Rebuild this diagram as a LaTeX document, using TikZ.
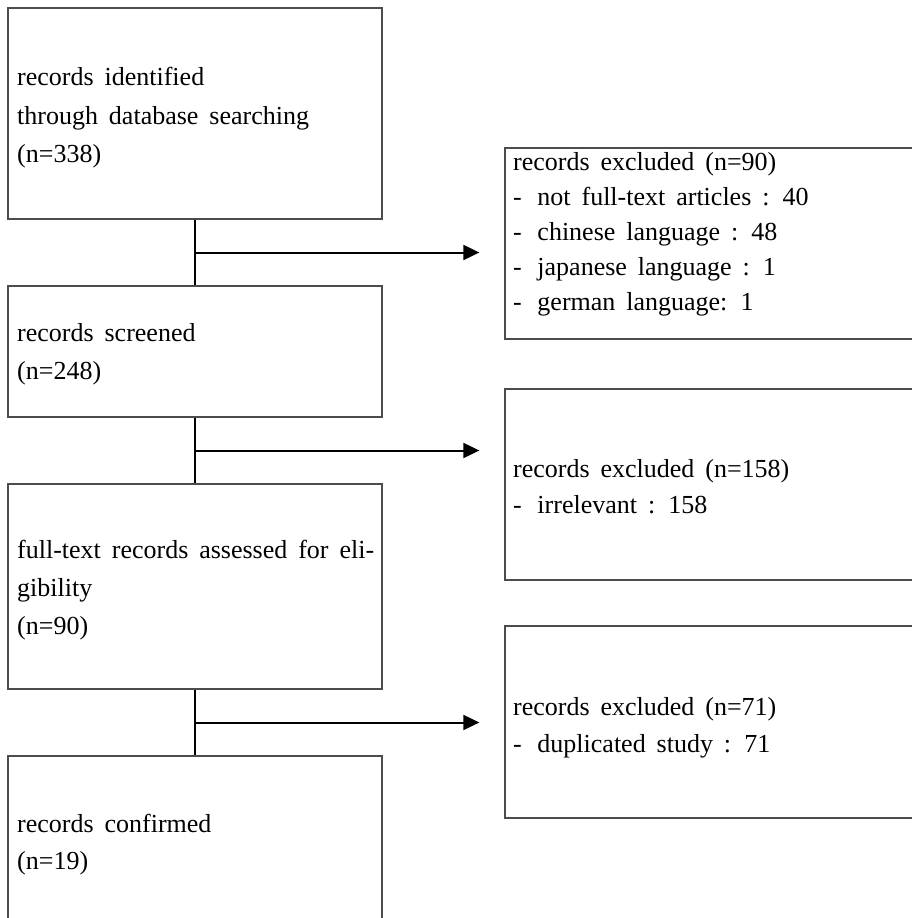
\documentclass[tikz,border=0pt]{standalone}
\usepackage{fontspec}
\setmainfont{Liberation Serif}
\usetikzlibrary{arrows.meta,calc}
\newcommand{\flowfont}{\fontsize{26}{30}\selectfont\spaceskip 0.42em\relax}
\begin{document}
\begin{tikzpicture}[x=1pt,y=-1pt,
  box/.style={draw=black!70,line width=1.3pt,inner sep=0pt,rectangle},
  txt/.style={anchor=base west,inner sep=0pt,font=\flowfont},
  vline/.style={draw=black,line width=1.3pt},
  harrow/.style={draw=black,line width=2pt,-{Triangle[length=16pt,width=15pt]}}]
\useasboundingbox (0,0) rectangle (912,918);
\clip (0,0) rectangle (912,918);
% left column
\node[box,minimum width=374pt,minimum height=211pt] (b1) at (195,113.5) {};
\node[box,minimum width=374pt,minimum height=131pt] (b2) at (195,351.5) {};
\node[box,minimum width=374pt,minimum height=205pt] (b3) at (195,586.5) {};
\node[box,minimum width=374pt,minimum height=200pt] (b4) at (195,856) {};
% right column
\node[box,minimum width=420pt,minimum height=191pt] (b5) at (715,243.5) {};
\node[box,minimum width=420pt,minimum height=191pt] (b6) at (715,484.5) {};
\node[box,minimum width=420pt,minimum height=192pt] (b7) at (715,722) {};
% texts
\node[txt] (t1a) at (17,85) {records identified};
\node[txt] (t1b) at (17,124) {through database searching};
\node[txt] (t1c) at (17,162) {(n=338)};
\node[txt] (t2a) at (17,341) {records screened};
\node[txt] (t2b) at (17,379) {(n=248)};
\node[txt] (t3a) at (17,558) {full-text records assessed for eli-};
\node[txt] (t3b) at (17,596) {gibility};
\node[txt] (t3c) at (17,634) {(n=90)};
\node[txt] (t4a) at (17,832) {records confirmed};
\node[txt] (t4b) at (17,869) {(n=19)};
\node[txt] (t5a) at (513,170) {records excluded (n=90)};
\node[txt] (t5b) at (513,205) {-\hspace{0.6em}not full-text articles : 40};
\node[txt] (t5c) at (513,240) {-\hspace{0.6em}chinese language : 48};
\node[txt] (t5d) at (513,275) {-\hspace{0.6em}japanese language : 1};
\node[txt] (t5e) at (513,310) {-\hspace{0.6em}german language: 1};
\node[txt] (t6a) at (513,477) {records excluded (n=158)};
\node[txt] (t6b) at (513,513) {-\hspace{0.6em}irrelevant : 158};
\node[txt] (t7a) at (513,715) {records excluded (n=71)};
\node[txt] (t7b) at (513,752) {-\hspace{0.6em}duplicated study : 71};
% connectors
\draw[vline] (b1.south) -- (b2.north);
\draw[vline] (b2.south) -- (b3.north);
\draw[vline] (b3.south) -- (b4.north);
\coordinate (j1) at ($(b1.south)!0.5!(b2.north)$);
\coordinate (j2) at ($(b2.south)!0.5!(b3.north)$);
\coordinate (j3) at ($(b3.south)!0.5!(b4.north)$);
\coordinate (e1) at ([xshift=-25pt]b5.west |- j1);
\coordinate (e2) at ([xshift=-25pt]b6.west |- j2);
\coordinate (e3) at ([xshift=-25pt]b7.west |- j3);
\draw[harrow] (j1) -- (e1);
\draw[harrow] (j2) -- (e2);
\draw[harrow] (j3) -- (e3);
\end{tikzpicture}
\end{document}
